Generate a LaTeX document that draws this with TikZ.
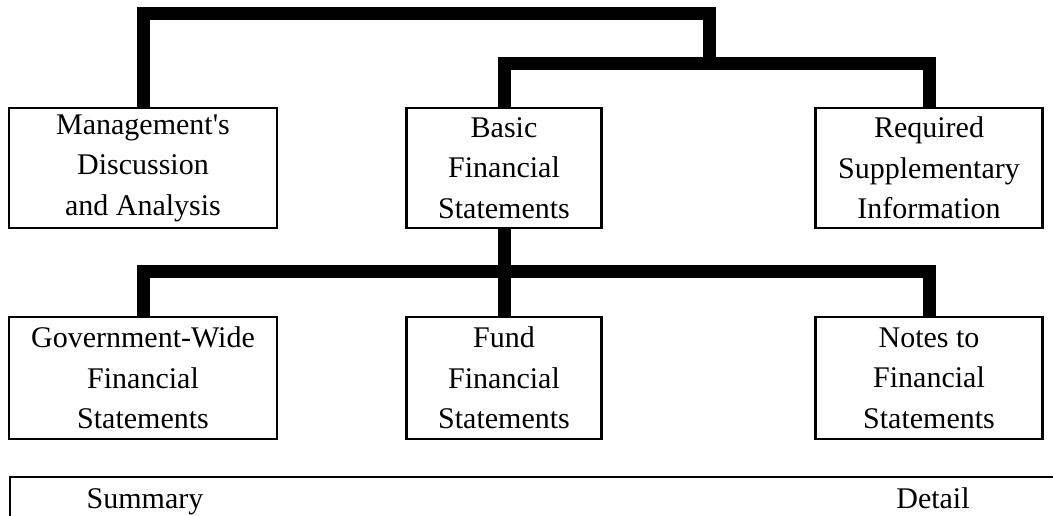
\documentclass[tikz,border=0pt]{standalone}
\usepackage{fontspec}
\setmainfont{Liberation Serif}[Ligatures=TeXOff]
\begin{document}
\begin{tikzpicture}[x=1pt,y=-1pt,
  box/.style={draw,line width=2.3pt,minimum height=120pt,inner sep=0pt,align=center,
    font=\fontsize{30}{40.5}\selectfont},
  conn/.style={line width=13pt,line join=miter},
  lbl/.style={font=\fontsize{30}{40}\selectfont,inner sep=0pt,anchor=base}]
\useasboundingbox (0,0) rectangle (1053,515);
% top row
\node[box,minimum width=268pt] (mda) at (143,168) {Management's\\Discussion\\and Analysis};
\node[box,minimum width=195pt] (bfs) at (504,168) {Basic\\Financial\\Statements};
\node[box,minimum width=227pt] (rsi) at (929,168) {Required\\Supplementary\\Information};
% bottom row
\node[box,minimum width=268pt,minimum height=122pt] (gw) at (143,378) {Government-Wide\\Financial\\Statements};
\node[box,minimum width=195pt,minimum height=122pt] (fund) at (504,378) {Fund\\Financial\\Statements};
\node[box,minimum width=227pt,minimum height=122pt] (notes) at (929,378) {Notes to\\Financial\\Statements};
% junctions
\coordinate (j1) at (709,13);
\coordinate (j2) at (709,63);
\coordinate (j3) at (504,271);
% connectors
\draw[conn] (mda.north) |- (j1) -- (j2);
\draw[conn] (bfs.north) |- (j2) -| (rsi.north);
\draw[conn] (bfs.south) -- (fund.north);
\draw[conn] (gw.north) |- (j3) -| (notes.north);
% summary / detail bar
\draw[line width=2.3pt] (10,520) -- (10,477) -- (1060,477);
\node[lbl] (summary) at (145,508) {Summary};
\node[lbl] (detail) at (933,508) {Detail};
\end{tikzpicture}
\end{document}
